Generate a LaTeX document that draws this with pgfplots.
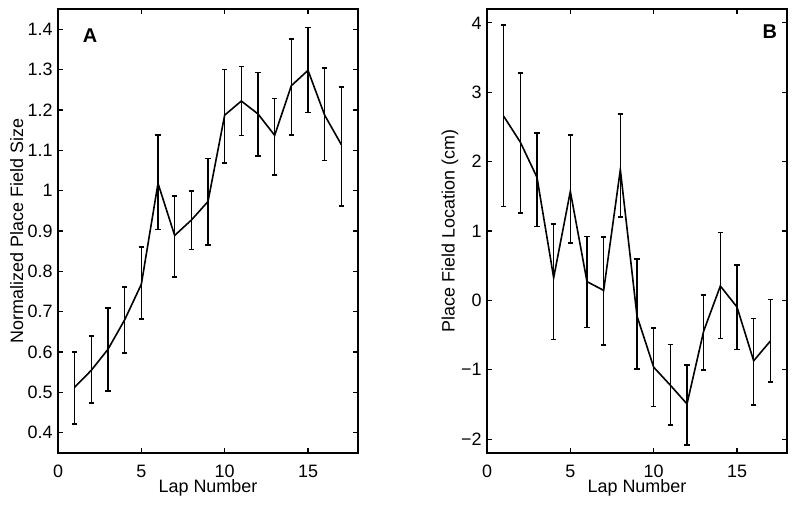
\documentclass[border=0pt]{standalone}
\usepackage{fontspec}
\setmainfont{Liberation Sans}
\usepackage{pgfplots}
\pgfplotsset{compat=1.18}
\usepackage{pgfplotstable}

\pgfplotstableread{
x y ep em
1 0.513 0.087 0.091
2 0.555 0.085 0.081
3 0.607 0.102 0.103
4 0.680 0.081 0.082
5 0.768 0.093 0.086
6 1.018 0.120 0.114
7 0.889 0.097 0.103
8 0.927 0.072 0.073
9 0.973 0.107 0.107
10 1.187 0.113 0.118
11 1.222 0.086 0.085
12 1.190 0.103 0.104
13 1.137 0.091 0.099
14 1.260 0.116 0.122
15 1.298 0.106 0.104
16 1.187 0.117 0.112
17 1.114 0.143 0.152
}\dataA

\pgfplotstableread{
x y ep em
1 2.655 1.311 1.301
2 2.280 0.997 1.017
3 1.773 0.637 0.708
4 0.327 0.772 0.890
5 1.571 0.815 0.743
6 0.270 0.650 0.660
7 0.144 0.766 0.784
8 1.884 0.800 0.679
9 -0.226 0.826 0.761
10 -0.963 0.568 0.568
11 -1.223 0.587 0.577
12 -1.493 0.564 0.592
13 -0.443 0.520 0.558
14 0.207 0.770 0.756
15 -0.096 0.602 0.612
16 -0.871 0.611 0.636
17 -0.587 0.601 0.588
}\dataB

\pgfplotsset{
  myaxis/.style={
    scale only axis, width=150bp, height=222bp, anchor=south west,
    xmin=0, xmax=18, xtick={0,5,10,15}, xticklabels={0,5,10,15},
    tick align=inside, major tick length=2.5bp,
    axis line style={line width=0.8bp},
    every tick/.style={line width=0.6bp, black},
    tick label style={font=\fontsize{9}{11}\selectfont},
    label style={font=\fontsize{9}{11}\selectfont},
    yticklabel style={xshift=0.5bp},
    xticklabel style={yshift=-3bp},
    xlabel={Lap Number},
    xlabel style={at={(axis description cs:0.5,-0.079)}, anchor=center},
  },
  myplot/.style={black, line width=0.8bp, mark=none,
    error bars/.cd, y dir=both, y explicit,
    error bar style={line width=0.8bp},
    error mark options={rotate=90, mark size=1.3bp, line width=0.8bp}},
}

\begin{document}
\fontsize{9}{11}\selectfont
\begin{tikzpicture}
\useasboundingbox (0,0) rectangle (400bp,253bp);
\begin{axis}[myaxis, at={(29bp,26.5bp)},
  ymin=0.35, ymax=1.45,
  ytick={0.4,0.5,0.6,0.7,0.8,0.9,1,1.1,1.2,1.3,1.4},
  yticklabels={0.4,0.5,0.6,0.7,0.8,0.9,1,1.1,1.2,1.3,1.4},
  ylabel={Normalized Place Field Size},
  ylabel style={at={(axis description cs:-0.138,0.5)}, anchor=center},
]
\addplot[myplot] table[x=x, y=y, y error plus=ep, y error minus=em] {\dataA};
\node[font=\bfseries\fontsize{10}{12}\selectfont] at (rel axis cs:0.107,0.941) {A};
\end{axis}
\begin{axis}[myaxis, at={(243.5bp,26.5bp)},
  ymin=-2.2, ymax=4.2,
  ytick={-2,-1,0,1,2,3,4},
  yticklabels={−2,−1,0,1,2,3,4},
  ylabel={Place Field Location (cm)},
  ylabel style={at={(axis description cs:-0.123,0.5)}, anchor=center},
]
\addplot[myplot] table[x=x, y=y, y error plus=ep, y error minus=em] {\dataB};
\node[font=\bfseries\fontsize{10}{12}\selectfont] at (rel axis cs:0.943,0.948) {B};
\end{axis}
\end{tikzpicture}
\end{document}
